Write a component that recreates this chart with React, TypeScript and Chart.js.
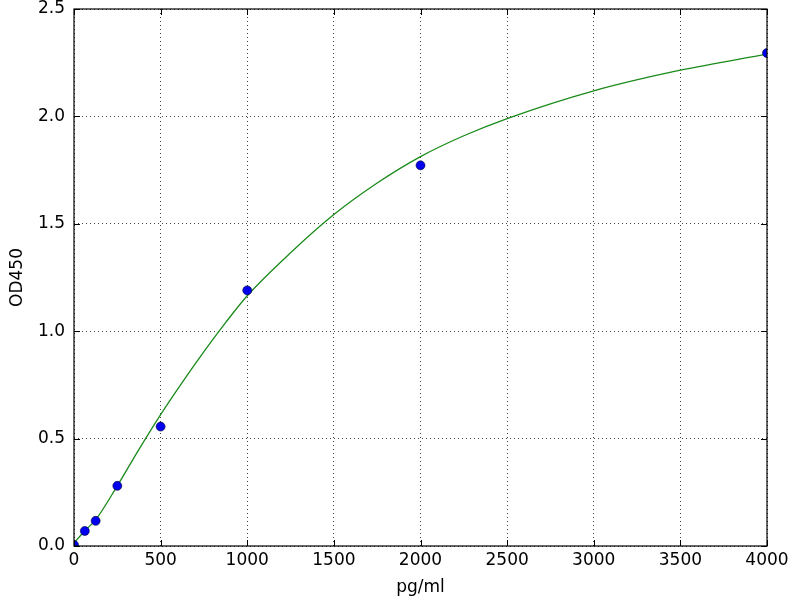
import React, { useEffect, useRef } from "react";
import { Chart, registerables } from "chart.js";

Chart.register(...registerables);

// Standard measurements (pg/ml vs OD450)
const standardConc: number[] = [0, 62.5, 125, 250, 500, 1000, 2000, 4000];
const standardOD: number[] = [0.005, 0.07, 0.117, 0.28, 0.556, 1.19, 1.772, 2.295];

// Fitted curve
const curveConc: number[] = [0, 62.5, 125, 250, 375, 500, 625, 750, 875, 1000, 1250, 1500, 1750, 2000, 2250, 2500, 3000, 3500, 4000];
const curveOD: number[] = [0.014, 0.071, 0.122, 0.28, 0.45, 0.612, 0.762, 0.905, 1.04, 1.165, 1.365, 1.543, 1.69, 1.813, 1.91, 1.99, 2.119, 2.215, 2.29];

const xTicks: number[] = [0, 500, 1000, 1500, 2000, 2500, 3000, 3500, 4000];
const yTicks: number[] = [0, 0.5, 1.0, 1.5, 2.0, 2.5];

const xTitle = "pg/ml";
const yTitle = "OD450";

const FONT = "'DejaVu Sans', sans-serif";

const framePlugin = {
  id: "frameTicks",
  afterDatasetsDraw(chart: any) {
    const { ctx, chartArea, scales } = chart;
    const { left, right, top, bottom } = chartArea;
    const len = 6;
    ctx.save();
    ctx.strokeStyle = "#000";
    ctx.lineWidth = 1;
    ctx.beginPath();
    for (const v of xTicks) {
      const px = Math.round(scales.x.getPixelForValue(v)) + 0.5;
      ctx.moveTo(px, bottom);
      ctx.lineTo(px, bottom - len);
      ctx.moveTo(px, top);
      ctx.lineTo(px, top + len);
    }
    for (const v of yTicks) {
      const py = Math.round(scales.y.getPixelForValue(v)) + 0.5;
      ctx.moveTo(left, py);
      ctx.lineTo(left + len, py);
      ctx.moveTo(right, py);
      ctx.lineTo(right - len, py);
    }
    ctx.stroke();
    ctx.lineWidth = 1.2;
    ctx.strokeRect(left, top, right - left, bottom - top);
    ctx.restore();
  },
};

export default function App() {
  const canvasRef = useRef<HTMLCanvasElement | null>(null);

  useEffect(() => {
    document.body.style.margin = "0";
    const canvas = canvasRef.current;
    if (!canvas) return;
    const chart = new Chart(canvas, {
      type: "scatter",
      data: {
        datasets: [
          {
            label: "standards",
            data: standardConc.map((x, i) => ({ x, y: standardOD[i] })),
            showLine: false,
            pointRadius: 4.5,
            pointHoverRadius: 4.5,
            backgroundColor: "#0000ee",
            borderColor: "#000033",
            borderWidth: 0.6,
            clip: 0,
            order: 0,
          },
          {
            label: "fit",
            data: curveConc.map((x, i) => ({ x, y: curveOD[i] })),
            showLine: true,
            pointRadius: 0,
            borderColor: "#1a8a1a",
            borderWidth: 1.3,
            cubicInterpolationMode: "monotone",
            fill: false,
            clip: 0,
            order: 1,
          },
        ],
      },
      options: {
        animation: false,
        responsive: false,
        maintainAspectRatio: false,
        layout: { padding: { top: 9, right: 33, left: 0, bottom: 0 } },
        plugins: {
          legend: { display: false },
          tooltip: { enabled: false },
        },
        scales: {
          x: {
            type: "linear",
            min: 0,
            max: 4000,
            afterBuildTicks: (s: any) => {
              s.ticks = xTicks.map((v) => ({ value: v }));
            },
            afterFit: (s: any) => {
              s.height = 54;
              s.paddingLeft = 0;
              s.paddingRight = 0;
            },
            ticks: {
              color: "#000",
              font: { family: FONT, size: 17 },
              padding: 4,
              maxRotation: 0,
              callback: (v: any) => String(v),
            },
            grid: { color: "rgba(0,0,0,0.75)", lineWidth: 1, drawTicks: false },
            border: { display: false, dash: [1, 3] },
            title: {
              display: true,
              text: xTitle,
              color: "#000",
              font: { family: FONT, size: 17 },
              padding: { top: 0, bottom: 2 },
            },
          },
          y: {
            type: "linear",
            min: 0,
            max: 2.5,
            afterBuildTicks: (s: any) => {
              s.ticks = yTicks.map((v) => ({ value: v }));
            },
            afterFit: (s: any) => {
              s.width = 74;
              s.paddingTop = 0;
              s.paddingBottom = 0;
            },
            ticks: {
              color: "#000",
              font: { family: FONT, size: 17 },
              padding: 9,
              callback: (v: any) => Number(v).toFixed(1),
            },
            grid: { color: "rgba(0,0,0,0.75)", lineWidth: 1, drawTicks: false },
            border: { display: false, dash: [1, 3] },
            title: {
              display: true,
              text: yTitle,
              color: "#000",
              font: { family: FONT, size: 17 },
              padding: { top: 7, bottom: 0 },
            },
          },
        },
      },
      plugins: [framePlugin],
    } as any);
    return () => chart.destroy();
  }, []);

  return (
    <div style={{ position: "absolute", left: 0, top: 0, width: 800, height: 600, background: "#fff" }}>
      <canvas ref={canvasRef} width={800} height={600} style={{ width: 800, height: 600 }} />
    </div>
  );
}
